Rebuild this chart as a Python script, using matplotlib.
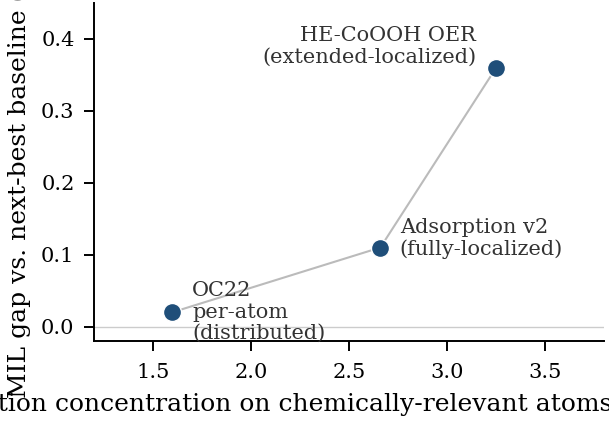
import matplotlib
matplotlib.use("Agg")
import matplotlib.pyplot as plt

conc = [1.6, 2.66, 3.25]
gap = [0.02, 0.11, 0.36]
labels = ["OC22\nper-atom\n(distributed)", "Adsorption v2\n(fully-localized)", "HE-CoOOH OER\n(extended-localized)"]
offsets = [(14, 0), (14, 6.5), (-14.4, 15.5)]
aligns = ["left", "left", "right"]
xticks = [1.5, 2.0, 2.5, 3.0, 3.5]
yticks = [0.0, 0.1, 0.2, 0.3, 0.4]

plt.rcParams['font.family'] = ['DejaVu Serif', 'DejaVu Sans']
fig = plt.figure(figsize=(6.09, 4.22), dpi=100)
ax = fig.add_axes([94/609, 81/422, 510/609, 338/422])

ax.axhline(0, color="#cccccc", lw=1, zorder=1)
ax.plot(conc, gap, color="#bbbbbb", lw=1.5, zorder=2)
ax.plot(conc, gap, 'o', color="#1f4e79", markersize=13, markeredgecolor="white",
        markeredgewidth=1.0, zorder=3)
for x, y, t, off, ha in zip(conc, gap, labels, offsets, aligns):
    ax.annotate(t, (x, y), xytext=off, textcoords="offset points", ha=ha, va="center",
                fontsize=15, color="#333333", multialignment=ha, linespacing=1.15)

ax.set_xlim(1.2, 3.8)
ax.set_ylim(-0.02, 0.45)
ax.set_xticks(xticks)
ax.set_yticks(yticks)
ax.tick_params(labelsize=15, width=1.4, length=7)
ax.tick_params(axis="x", pad=8.5)
ax.tick_params(axis="y", pad=7)
for s in ["top", "right"]:
    ax.spines[s].set_visible(False)
for s in ["left", "bottom"]:
    ax.spines[s].set_linewidth(1.4)
ax.set_xlabel("Attention concentration on chemically-relevant atoms (\u00d7 uniform)",
              fontsize=18, labelpad=8)
ax.set_ylabel("MIL gap vs. next-best baseline (AP)", fontsize=18, labelpad=7)

fig.savefig("out.png", dpi=100)
